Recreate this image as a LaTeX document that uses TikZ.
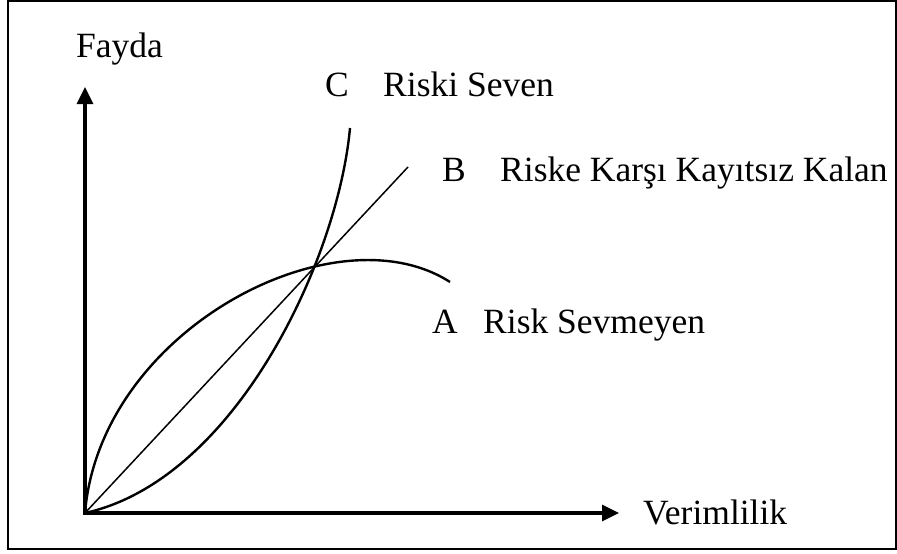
\documentclass[tikz,border=0pt]{standalone}
\usepackage{fontspec}
\setmainfont{Liberation Serif}
\usetikzlibrary{arrows.meta}
\begin{document}
\begin{tikzpicture}[x=1pt,y=-1pt,
  lbl/.style={anchor=base west,inner sep=0pt,font=\fontsize{35.5}{40}\selectfont},
  axis/.style={line width=3.3pt,-{Triangle[length=17pt,width=16pt]}},
  curve/.style={line width=2.4pt},
  thin line/.style={line width=1.5pt}]
\useasboundingbox (0,0) rectangle (897,554);
\draw[line width=2pt] (8,1) rectangle (896,549);
\coordinate (O) at (85,513);
\coordinate (ytip) at (85,87);
\coordinate (xtip) at (619,513);
\coordinate (Bend) at (408,167);
\coordinate (Aend) at (450,282);
\coordinate (Cend) at (350,128);
\draw[axis] ([yshift=-2pt]O) -- (ytip);
\draw[axis] ([xshift=-1.5pt]O) -- (xtip);
\draw[thin line] (O) -- (Bend);
\draw[curve] (O) .. controls (100,330) and (335,208) .. (Aend);
\draw[curve] (O) .. controls (235,480) and (338,260) .. (Cend);
\node[lbl] (fayda) at (76,57) {Fayda};
\node[lbl] (verim) at (643,524) {Verimlilik};
\node[lbl] (C) at (325,96) {C};
\node[lbl] (Ct) at (383,96) {Riski Seven};
\node[lbl] (B) at (442,181) {B};
\node[lbl] (Bt) at (500,181) {Riske Karşı Kayıtsız Kalan};
\node[lbl] (A) at (432,333) {A};
\node[lbl] (At) at (483,333) {Risk Sevmeyen};
\end{tikzpicture}
\end{document}
